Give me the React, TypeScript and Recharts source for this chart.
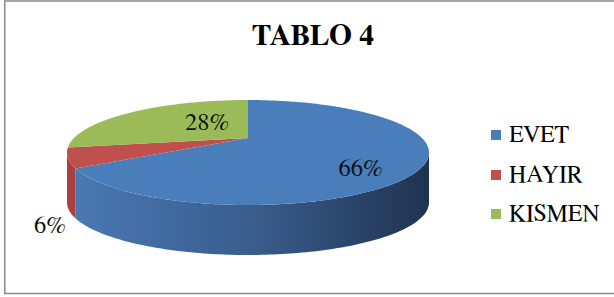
import React from 'react';
import { PieChart, Pie, Cell, Legend } from 'recharts';

const CATEGORIES = ['EVET', 'HAYIR', 'KISMEN'];
const VALUES = [66, 6, 28];
const TITLE = 'TABLO 4';

const COLORS = ['#4a7ebb', '#c0504d', '#9bbb59'];
const SIDE_COLORS = ['url(#sideBlue)', '#a9413e', '#7f9a48'];

const data = CATEGORIES.map((name, i) => ({ name, value: VALUES[i] }));

const W = 614;
const H = 297;
const SERIF = "'FreeSerif', 'Liberation Serif', serif";

// 3D look
const LAMBDA = 1.763; // perspective strength
const FLATTEN = 0.29; // ry / rx
const DEPTH = 50;
const VIS = (Math.asin((LAMBDA - 1) / (LAMBDA + 1)) * 180) / Math.PI;

// label placement (angle shift from mid angle, radius fraction)
const LABEL_STYLE = [
  { mode: 'in', dA: -22, r: 0.84 },
  { mode: 'out', dx: -18, dy: 25 },
  { mode: 'in', dA: 5, r: 0.3 },
];

function makeProjector(cx: number, cy: number, rx: number) {
  const ry = rx * FLATTEN;
  const h = 2 * ry;
  const top = cy - ry;
  const K = rx * Math.sqrt(LAMBDA);
  return (deg: number, r = 1) => {
    const t = (deg * Math.PI) / 180;
    const u = r * Math.cos(t);
    const v = -r * Math.sin(t);
    const s = (1 + v) / 2;
    const D = LAMBDA + (1 - LAMBDA) * s;
    return { x: cx + (K * u) / D, y: top + (h * s) / D };
  };
}

function arcAngles(from: number, to: number) {
  const out: number[] = [];
  const n = Math.max(2, Math.ceil(Math.abs(from - to) / 1));
  for (let i = 0; i <= n; i++) out.push(from + ((to - from) * i) / n);
  return out;
}

const renderSlice = (props: any) => {
  const { cx, cy, outerRadius, startAngle, endAngle, index, percent } = props;
  const P = makeProjector(cx, cy, outerRadius);
  const hi0 = Math.max(startAngle, endAngle);
  const lo0 = Math.min(startAngle, endAngle);

  const apex = P(0, 0);
  const topPts = arcAngles(hi0, lo0).map((a) => P(a));
  const topD =
    `M${apex.x},${apex.y} ` + topPts.map((p) => `L${p.x},${p.y}`).join(' ') + ' Z';

  const sides: string[] = [];
  for (const k of [-1, 0, 1]) {
    const lo = Math.max(lo0, -180 + VIS + 360 * k);
    const hi = Math.min(hi0, -VIS + 360 * k);
    if (hi > lo) {
      const pts = arcAngles(hi, lo).map((a) => P(a));
      const back = pts.slice().reverse().map((p) => ({ x: p.x, y: p.y + DEPTH }));
      const d =
        `M${pts[0].x},${pts[0].y} ` +
        pts.slice(1).map((p) => `L${p.x},${p.y}`).join(' ') +
        ' ' +
        back.map((p) => `L${p.x},${p.y}`).join(' ') +
        ' Z';
      sides.push(d);
    }
  }

  const st: any = LABEL_STYLE[index];
  const mid = (startAngle + endAngle) / 2;
  let lx: number;
  let ly: number;
  if (st.mode === 'in') {
    const p = P(mid + st.dA, st.r);
    lx = p.x;
    ly = p.y;
  } else {
    const p = P(mid, 1);
    lx = p.x + st.dx;
    ly = p.y + DEPTH + st.dy;
  }
  const txt = `${Math.round(percent * 100)}%`;

  return (
    <g key={`slice-${index}`}>
      {index === 0 && (
        <defs>
          <linearGradient
            id="sideBlue"
            gradientUnits="userSpaceOnUse"
            x1={cx - outerRadius + 10}
            y1={0}
            x2={cx + outerRadius}
            y2={0}
          >
            <stop offset="0" stopColor="#4a78b3" />
            <stop offset="0.5" stopColor="#395d8d" />
            <stop offset="1" stopColor="#1f3350" />
          </linearGradient>
        </defs>
      )}
      {sides.map((d, i) => (
        <path key={i} d={d} fill={SIDE_COLORS[index]} stroke="none" />
      ))}
      <path d={topD} fill={COLORS[index]} stroke="none" />
      <text
        x={lx}
        y={ly}
        textAnchor="middle"
        style={{ fontFamily: SERIF, fontSize: 24.5 }}
        fill="#111"
      >
        {txt}
      </text>
    </g>
  );
};

const renderLegend = (props: any) => {
  const payload = props && props.payload ? props.payload : [];
  return (
    <div style={{ fontFamily: SERIF, fontSize: 24, color: '#000' }}>
      {payload.map((entry: any, i: number) => (
        <div
          key={i}
          style={{ display: 'flex', alignItems: 'center', height: 39.75, whiteSpace: 'nowrap' }}
        >
          <span
            style={{
              display: 'inline-block',
              width: 10,
              height: 10,
              background: COLORS[i],
              marginRight: 8,
            }}
          />
          <span style={{ lineHeight: 1, fontFamily: SERIF }}>{entry.value}</span>
        </div>
      ))}
    </div>
  );
};

export default function App() {
  return (
    <div style={{ position: 'relative', width: W, height: H, background: '#fff', fontFamily: SERIF }}>
      <style>{'body{margin:0;}'}</style>
      <svg width={W} height={H} style={{ position: 'absolute', left: 0, top: 0 }}>
        <rect
          x={4.75}
          y={1}
          width={612}
          height={292.5}
          fill="#fff"
          stroke="#8a8a8a"
          strokeWidth={1.5}
        />
        <text
          x={313}
          y={44.5}
          textAnchor="middle"
          style={{ fontFamily: SERIF, fontWeight: 'bold', fontSize: 29.5 }}
          fill="#000"
        >
          {TITLE}
        </text>
      </svg>
      <div style={{ position: 'absolute', left: 0, top: 0 }}>
        <PieChart width={W} height={H} style={{ fontFamily: SERIF }}>
          <Pie
            data={data}
            dataKey="value"
            nameKey="name"
            cx={243}
            cy={147.5}
            innerRadius={0}
            outerRadius={181}
            startAngle={90}
            endAngle={-270}
            stroke="none"
            labelLine={false}
            label={renderSlice}
            isAnimationActive={false}
          >
            {data.map((d, i) => (
              <Cell key={d.name} fill={COLORS[i]} fillOpacity={0} stroke="none" />
            ))}
          </Pie>
          <Legend
            content={renderLegend}
            layout="vertical"
            align="right"
            verticalAlign="top"
            wrapperStyle={{ position: 'absolute', left: 491, top: 115, width: 'auto' }}
          />
        </PieChart>
      </div>
    </div>
  );
}
